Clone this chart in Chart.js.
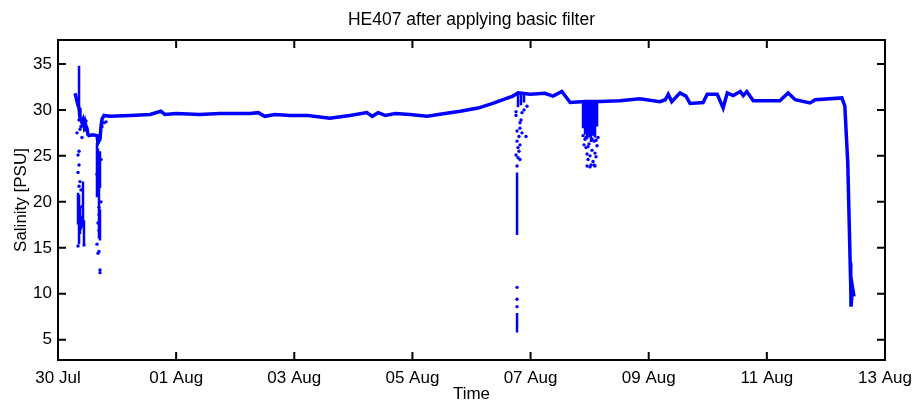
<!DOCTYPE html>
<html>
<head>
<meta charset="utf-8">
<title>HE407 after applying basic filter</title>
<script src="https://cdn.jsdelivr.net/npm/chart.js@4/dist/chart.umd.min.js"></script>
<style>
  body { margin: 0; background: #fff; }
  canvas { display: block; }
</style>
</head>
<body>
<canvas id="salinity-chart" width="917" height="405"></canvas>
<script>
// time in days since 30 Jul 00:00, salinity in PSU

// main trace
const traceDays = [0.288, 0.305, 0.322, 0.339, 0.356, 0.372, 0.389, 0.406, 0.423, 0.44, 0.457, 0.474, 0.491, 0.508, 0.525, 0.59, 0.66, 0.677, 0.711, 0.728, 0.745, 0.779, 0.88, 1.22, 1.56, 1.74, 1.81, 2.0, 2.4, 2.74, 3.25, 3.39, 3.5, 3.67, 3.93, 4.23, 4.6, 4.94, 5.23, 5.32, 5.42, 5.54, 5.71, 5.96, 6.25, 6.55, 6.81, 7.11, 7.36, 7.57, 7.7, 7.79, 7.99, 8.24, 8.38, 8.53, 8.67, 8.92, 9.18, 9.51, 9.85, 10.19, 10.28, 10.33, 10.39, 10.53, 10.63, 10.7, 10.92, 10.99, 11.16, 11.26, 11.33, 11.43, 11.55, 11.6, 11.66, 11.77, 12.22, 12.36, 12.48, 12.73, 12.82, 13.27, 13.32, 13.37, 13.41, 13.42, 13.425, 13.45, 13.475];
const traceSal = [31.8, 31.4, 30.9, 30.5, 30.2, 29.2, 28.9, 28.6, 28.9, 28.3, 28.7, 28.2, 28.0, 27.3, 27.2, 27.3, 27.2, 26.4, 26.8, 28.2, 29.0, 29.4, 29.3, 29.4, 29.5, 29.85, 29.5, 29.6, 29.5, 29.6, 29.6, 29.7, 29.3, 29.5, 29.4, 29.4, 29.1, 29.4, 29.7, 29.3, 29.7, 29.4, 29.6, 29.5, 29.3, 29.6, 29.85, 30.2, 30.7, 31.2, 31.5, 31.85, 31.7, 31.8, 31.5, 32.0, 30.8, 30.9, 30.9, 31.0, 31.2, 30.9, 31.1, 31.7, 30.9, 31.85, 31.5, 30.7, 30.8, 31.7, 31.7, 30.2, 31.85, 31.55, 32.0, 31.55, 32.0, 31.0, 31.0, 31.85, 31.1, 30.75, 31.1, 31.3, 30.4, 24.2, 13.4, 10.8, 8.6, 10.7, 9.7];

// dense vertical runs of readings (day, top, bottom)
const segDays = [0.356, 0.339, 0.356, 0.372, 0.389, 0.423, 0.44, 0.66, 0.677, 0.694, 0.711, 0.711, 7.771, 7.771, 7.787, 7.838, 7.889, 8.888, 8.922, 8.956, 8.989, 9.023, 9.057, 9.091, 9.125];
const segTop = [34.8, 21.0, 20.8, 19.5, 18.5, 22.2, 18.0, 26.4, 25.8, 22.0, 25.5, 19.2, 23.2, 7.9, 31.8, 31.8, 31.9, 31.0, 31.0, 31.0, 31.0, 31.0, 31.0, 31.0, 31.0];
const segBottom = [30.2, 17.5, 15.4, 16.5, 17.0, 17.2, 15.4, 20.5, 21.0, 16.0, 21.5, 15.8, 16.4, 5.8, 30.3, 30.5, 30.8, 28.0, 27.3, 26.8, 27.0, 26.5, 27.2, 27.0, 28.2];

// single scattered readings
const dotDays = [0.356, 0.372, 0.356, 0.339, 0.356, 0.339, 0.372, 0.356, 0.389, 0.406, 0.322, 0.389, 0.406, 0.44, 0.339, 0.457, 0.474,
  0.694, 0.694, 0.677, 0.694, 0.66, 0.694, 0.677, 0.711, 0.711, 0.728, 0.745, 0.779, 0.813, 0.66, 0.728,
  7.754, 7.754, 7.855, 7.838, 7.821, 7.821, 7.855, 7.771, 7.804, 7.923, 7.771, 7.787, 7.821, 7.804, 7.754, 7.787, 7.821, 7.771, 7.771, 7.771, 7.771, 7.889, 7.94,
  8.922, 8.939, 8.956, 8.972, 8.989, 9.006, 9.023, 9.04, 9.057, 9.074, 9.091, 9.108, 9.125, 9.006, 8.939, 9.074, 9.142, 8.888, 9.04, 8.972, 8.956, 9.091, 8.905, 9.108];
const dotSal = [28.9, 27.9, 25.5, 25.1, 24.0, 23.2, 22.2, 21.7, 21.3, 19.5, 27.5, 28.2, 27.0, 15.3, 15.2, 27.8, 28.8,
  19.4, 18.6, 17.7, 16.9, 15.4, 14.6, 14.4, 12.6, 12.3, 24.6, 28.2, 28.6, 28.7, 23.0, 20.0,
  29.8, 29.4, 29.7, 28.9, 28.6, 28.0, 27.5, 27.7, 27.1, 27.1, 26.6, 25.9, 26.2, 25.5, 25.1, 24.8, 24.6, 23.9, 10.7, 9.4, 8.6, 30.0, 30.4,
  26.8, 25.9, 25.2, 24.6, 26.3, 25.0, 24.0, 25.6, 24.4, 26.6, 25.3, 24.9, 26.1, 23.8, 27.0, 24.0, 27.0, 27.2, 26.8, 26.0, 23.9, 23.9, 26.2, 26.7];

// axes
const xTickDays = [0, 2, 4, 6, 8, 10, 12, 14];
const xTickLabels = ["30 Jul", "01 Aug", "03 Aug", "05 Aug", "07 Aug", "09 Aug", "11 Aug", "13 Aug"];
const yTicks = [5, 10, 15, 20, 25, 30, 35];

const blue = "#0000ff";
const font = { family: "'Liberation Sans', Arial, sans-serif", size: 17 };

// puntos de la traza principal
const traceData = traceDays.map((d, i) => ({ x: d, y: traceSal[i] }));

// tramos verticales separados por null
const segData = [];
segDays.forEach((d, i) => {
    segData.push({ x: d, y: segTop[i] }, { x: d, y: segBottom[i] }, { x: d, y: null });
});

const dotData = dotDays.map((d, i) => ({ x: d, y: dotSal[i] }));

// caja negra con marcas hacia dentro en los cuatro lados
const boxPlugin = {
    id: "boxTicks",
    afterDatasetsDraw(chart) {
        const { ctx, chartArea: a, scales } = chart;
        const len = 8;
        ctx.save();
        ctx.strokeStyle = "#000";
        ctx.lineWidth = 2;
        ctx.strokeRect(a.left, a.top, a.right - a.left, a.bottom - a.top);
        ctx.beginPath();
        xTickDays.forEach(d => {
            const px = scales.x.getPixelForValue(d);
            ctx.moveTo(px, a.bottom); ctx.lineTo(px, a.bottom - len);
            ctx.moveTo(px, a.top); ctx.lineTo(px, a.top + len);
        });
        yTicks.forEach(v => {
            const py = scales.y.getPixelForValue(v);
            ctx.moveTo(a.left, py); ctx.lineTo(a.left + len, py);
            ctx.moveTo(a.right, py); ctx.lineTo(a.right - len, py);
        });
        ctx.stroke();
        ctx.restore();
    }
};

const chart = new Chart(document.getElementById("salinity-chart"), {
    type: "scatter",
    data: {
        datasets: [{
            data: traceData,
            showLine: true,
            borderColor: blue,
            borderWidth: 3.5,
            pointRadius: 0,
            tension: 0
        }, {
            data: segData,
            showLine: true,
            spanGaps: false,
            borderColor: blue,
            borderWidth: 2.5,
            pointRadius: 0
        }, {
            data: dotData,
            pointRadius: 1.7,
            pointBorderWidth: 0,
            backgroundColor: blue,
            borderColor: blue
        }]
    },
    options: {
        responsive: false,
        animation: false,
        devicePixelRatio: 1,
        layout: { padding: { left: 0, right: 32, top: 0, bottom: 0 } },
        plugins: {
            legend: { display: false },
            tooltip: { enabled: false },
            title: {
                display: true,
                text: "HE407 after applying basic filter",
                color: "#000",
                font: { ...font, size: 17.5, weight: "normal" },
                fullSize: false,
                padding: { top: 10, bottom: 9 }
            }
        },
        scales: {
            x: {
                type: "linear",
                min: 0,
                max: 14,
                afterBuildTicks: s => { s.ticks = xTickDays.map(v => ({ value: v })); },
                afterFit: s => {
                    s.height = 45;
                    s.paddingLeft = 0;
                    s.paddingRight = 0;
                },
                ticks: {
                    callback: v => xTickLabels[xTickDays.indexOf(v)],
                    autoSkip: false,
                    maxRotation: 0,
                    padding: 8,
                    color: "#000",
                    font: font
                },
                grid: { display: false, drawTicks: false },
                border: { display: false },
                title: { display: true, text: "Time", color: "#000", font: font, padding: { top: 0, bottom: 0 } }
            },
            y: {
                type: "linear",
                min: 2.8,
                max: 37.6,
                afterBuildTicks: s => { s.ticks = yTicks.map(v => ({ value: v })); },
                afterFit: s => { s.width = 58; },
                ticks: { padding: 6, color: "#000", font: font },
                grid: { display: false, drawTicks: false },
                border: { display: false },
                title: { display: true, text: "Salinity [PSU]", color: "#000", font: font, padding: { top: 11, bottom: 0 } }
            }
        }
    },
    plugins: [boxPlugin]
});
</script>
</body>
</html>
